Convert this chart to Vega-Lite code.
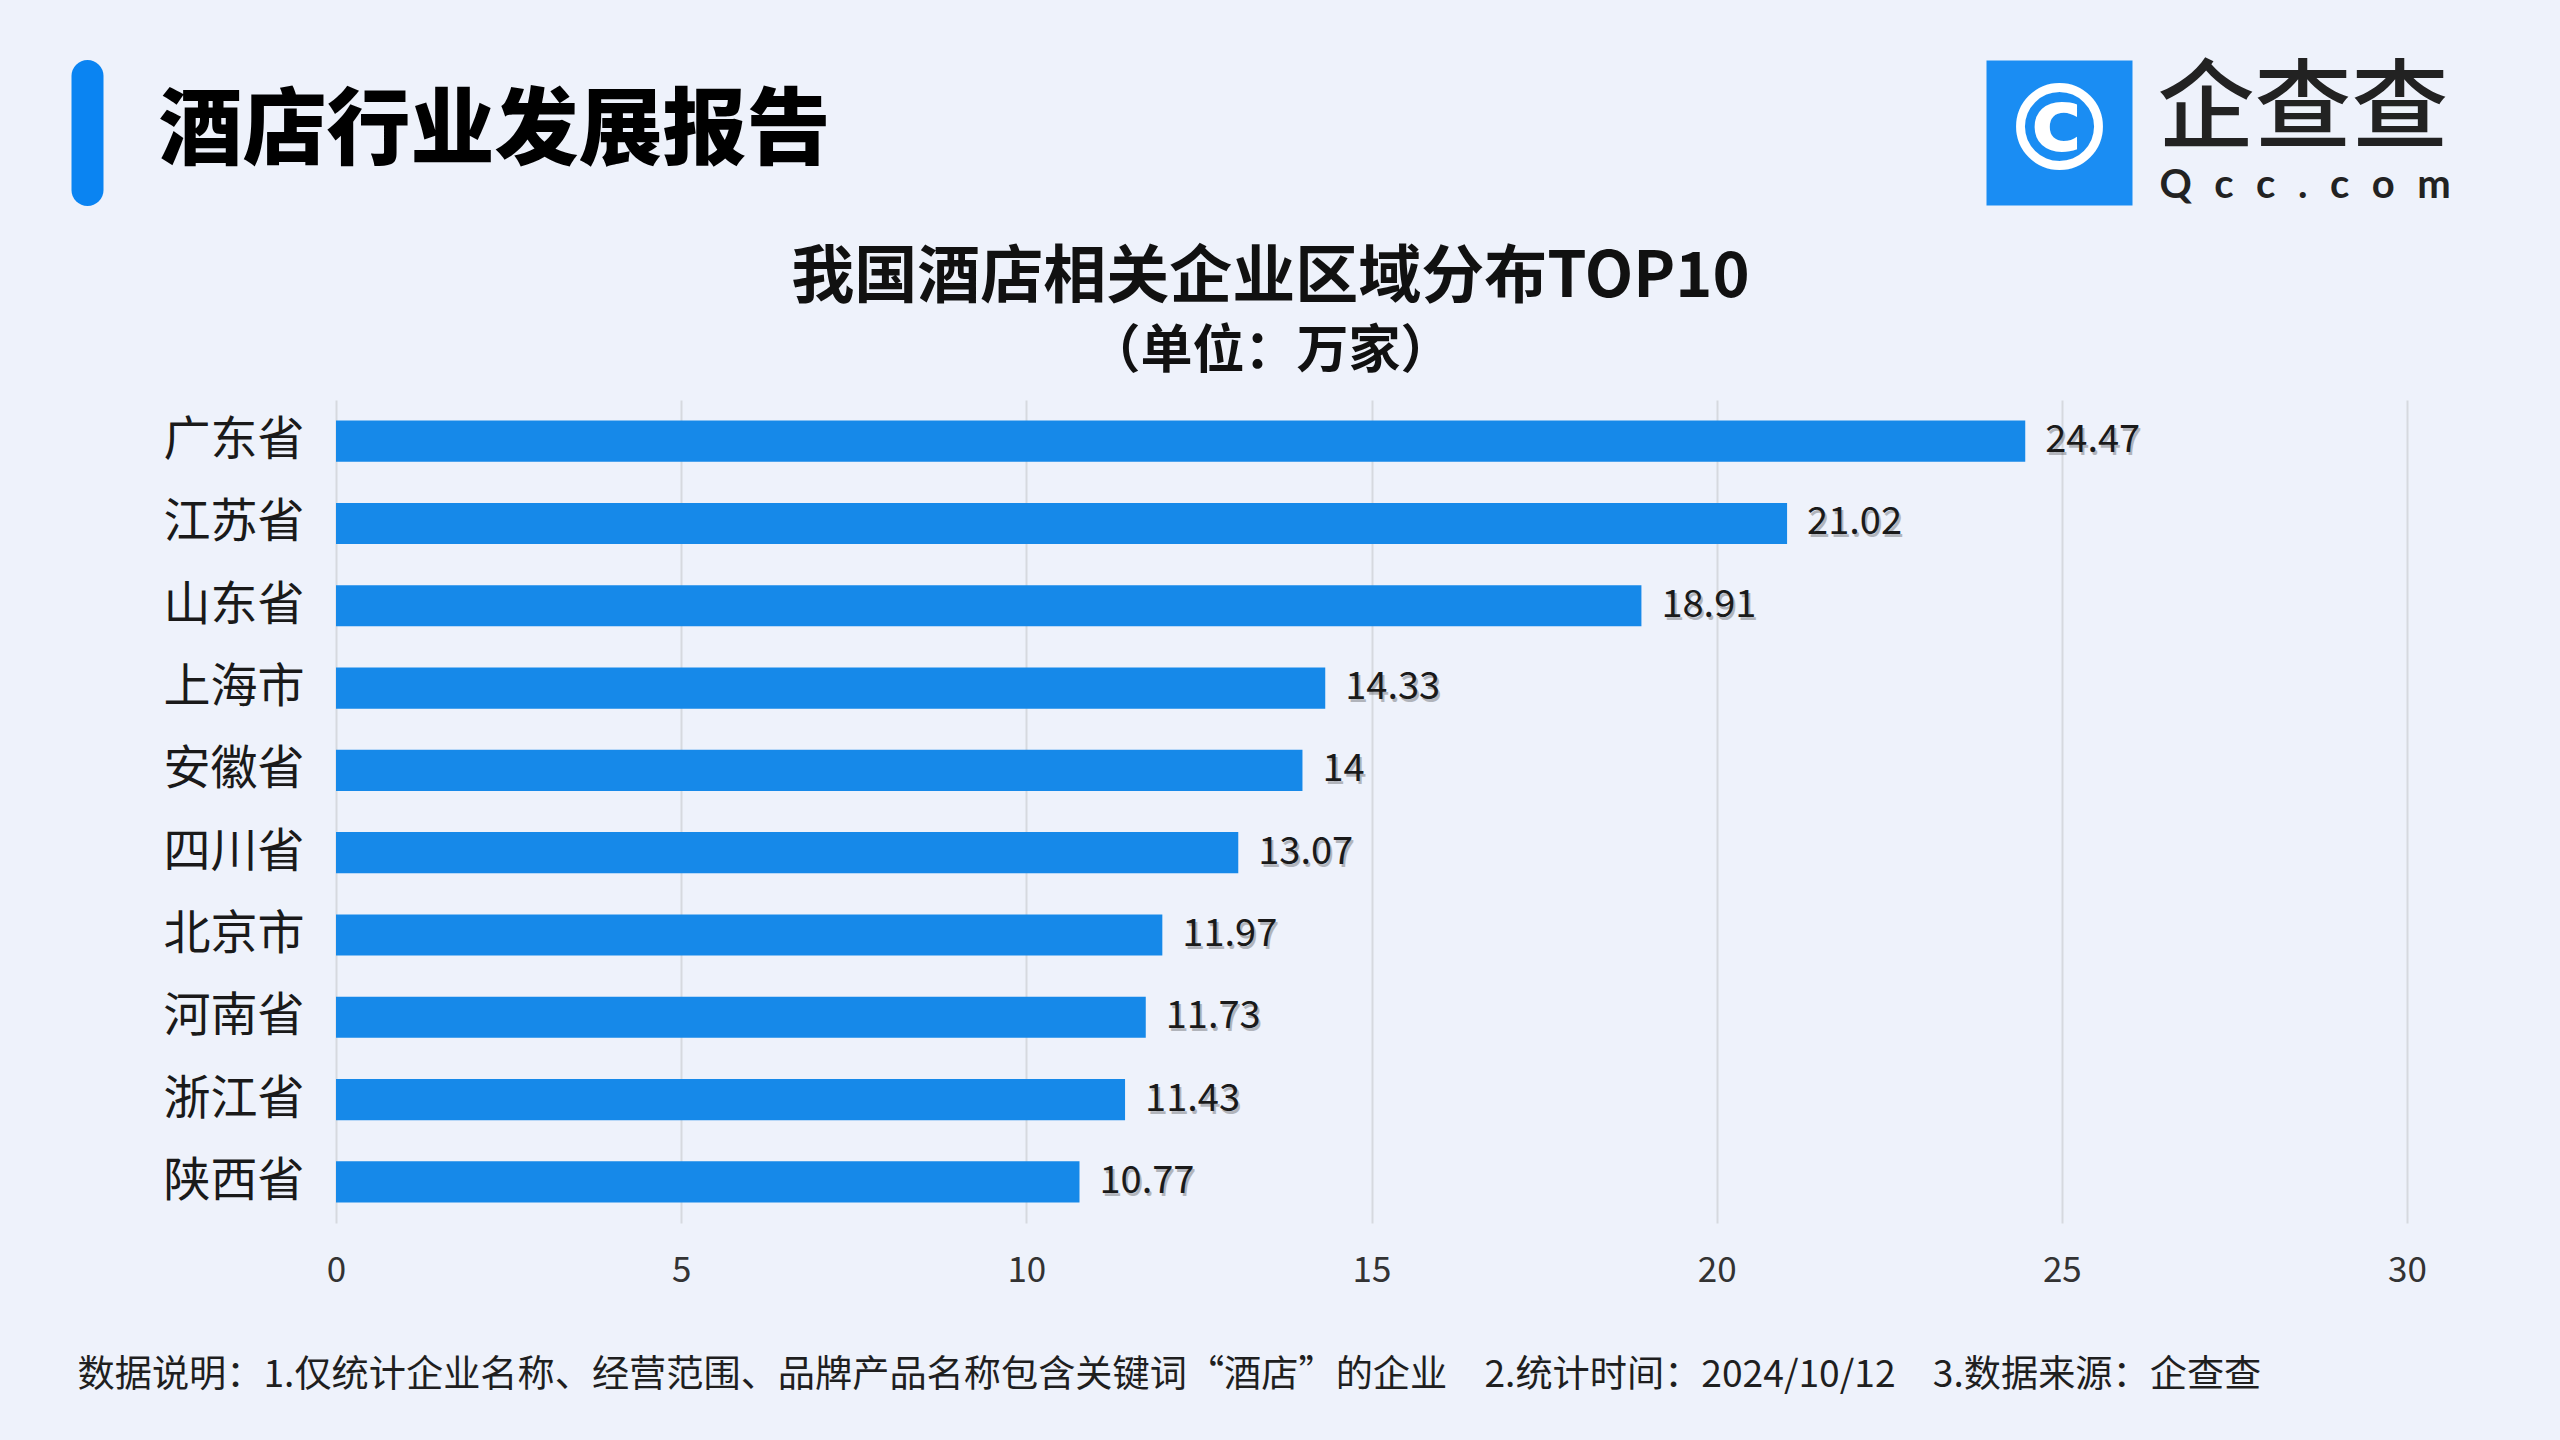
{
  "$schema": "https://vega.github.io/schema/vega-lite/v6.json",
  "width": 2071,
  "height": 823,
  "autosize": {"type": "none"},
  "padding": {"left": 336, "top": 400, "right": 153, "bottom": 217},
  "background": "#EEF2FB",
  "config": {"view": {"stroke": null}, "font": "Noto Sans CJK SC"},
  "title": {
    "text": "我国酒店相关企业区域分布TOP10",
    "subtitle": "（单位：万家）",
    "anchor": "middle",
    "frame": "group",
    "dx": -101,
    "offset": -391,
    "font": "Noto Sans CJK SC",
    "fontSize": 63,
    "fontWeight": "bold",
    "color": "#111111",
    "subtitleFont": "Noto Sans CJK SC",
    "subtitleFontSize": 52,
    "subtitleFontWeight": "bold",
    "subtitleColor": "#111111",
    "subtitlePadding": 17
  },
  "data": {
    "values": [
      {"province": "广东省", "value": 24.47},
      {"province": "江苏省", "value": 21.02},
      {"province": "山东省", "value": 18.91},
      {"province": "上海市", "value": 14.33},
      {"province": "安徽省", "value": 14},
      {"province": "四川省", "value": 13.07},
      {"province": "北京市", "value": 11.97},
      {"province": "河南省", "value": 11.73},
      {"province": "浙江省", "value": 11.43},
      {"province": "陕西省", "value": 10.77}
    ]
  },
  "layer": [
    {
      "mark": {"type": "bar", "color": "#1689E9"},
      "encoding": {
        "y": {
          "field": "province",
          "type": "nominal",
          "sort": null,
          "scale": {"paddingInner": 0.5, "paddingOuter": 0.25},
          "axis": {
            "orient": "left",
            "title": "酒店行业发展报告",
            "titleAngle": 0,
            "titleX": -178,
            "titleY": -268,
            "titleAlign": "left",
            "titleBaseline": "middle",
            "titleFont": "Noto Sans CJK SC",
            "titleFontSize": 84,
            "titleFontWeight": 900,
            "titleColor": "#000000",
            "domain": false,
            "ticks": false,
            "grid": false,
            "labelFont": "Noto Sans CJK SC",
            "labelFontSize": 47,
            "labelColor": "#1a1a1a",
            "labelPadding": 32
          }
        },
        "x": {
          "field": "value",
          "type": "quantitative",
          "scale": {"domain": [0, 30], "nice": false},
          "axis": {
            "orient": "bottom",
            "values": [0, 5, 10, 15, 20, 25, 30],
            "grid": true,
            "gridColor": "#d6d9df",
            "gridWidth": 2,
            "domain": false,
            "ticks": false,
            "labelFlush": false,
            "labelFont": "Noto Sans CJK SC",
            "labelFontSize": 35,
            "labelColor": "#333333",
            "labelPadding": 30,
            "title": "数据说明：1.仅统计企业名称、经营范围、品牌产品名称包含关键词“酒店”的企业　2.统计时间：2024/10/12　3.数据来源：企查查",
            "titleX": -259,
            "titleY": 152,
            "titleAlign": "left",
            "titleBaseline": "middle",
            "titleFont": "Noto Sans CJK SC",
            "titleFontSize": 37.2,
            "titleFontWeight": "normal",
            "titleColor": "#1f1f1f"
          }
        }
      }
    },
    {
      "mark": {"type": "text", "align": "left", "baseline": "middle", "dx": 22, "dy": 3, "fontSize": 38, "color": "#000000", "opacity": 0.25, "font": "Noto Sans CJK SC"},
      "encoding": {
        "y": {
          "field": "province",
          "type": "nominal",
          "sort": null,
          "axis": {
            "orient": "right",
            "labels": false,
            "ticks": false,
            "domain": false,
            "grid": false,
            "title": "企查查",
            "titleAngle": 0,
            "titleX": -250,
            "titleY": -290,
            "titleAlign": "left",
            "titleBaseline": "middle",
            "titleFont": "Noto Sans CJK SC",
            "titleFontSize": 97,
            "titleFontWeight": 500,
            "titleColor": "#222222"
          }
        },
        "x": {
          "field": "value",
          "type": "quantitative",
          "axis": {
            "orient": "top",
            "values": [0],
            "translate": -248.5,
            "offset": -38.5,
            "labels": false,
            "domain": false,
            "grid": false,
            "ticks": true,
            "tickSize": 114,
            "tickWidth": 32,
            "tickCap": "round",
            "tickColor": "#0A84F2",
            "title": "Q\u2002\u200ac\u2002\u200ac\u2002\u200a.\u2002\u200ac\u2002\u200ao\u2002\u200am",
            "titleX": 2072,
            "titleY": -4,
            "titleAlign": "left",
            "titleBaseline": "middle",
            "titleFont": "Lato",
            "titleFontSize": 40,
            "titleFontWeight": "bold",
            "titleColor": "#222222"
          }
        },
        "text": {"field": "value", "type": "quantitative"}
      }
    },
    {
      "mark": {"type": "text", "align": "left", "baseline": "middle", "dx": 20, "fontSize": 38, "color": "#1a1a1a", "font": "Noto Sans CJK SC"},
      "encoding": {
        "y": {"field": "province", "type": "nominal", "sort": null, "axis": null},
        "x": {
          "field": "value",
          "type": "quantitative",
          "axis": {
            "orient": "top",
            "values": [24.959],
            "labels": false,
            "domain": false,
            "grid": false,
            "ticks": true,
            "tickSize": 145,
            "tickWidth": 146,
            "tickCap": "butt",
            "tickColor": "#1A8DF3",
            "offset": 195,
            "title": "©",
            "titleX": 1723,
            "titleY": -72,
            "titleAlign": "center",
            "titleBaseline": "middle",
            "titleFont": "DejaVu Sans",
            "titleFontSize": 120,
            "titleFontWeight": "bold",
            "titleColor": "#ffffff"
          }
        },
        "text": {"field": "value", "type": "quantitative"}
      }
    }
  ],
  "resolve": {"axis": {"x": "independent", "y": "independent"}}
}
